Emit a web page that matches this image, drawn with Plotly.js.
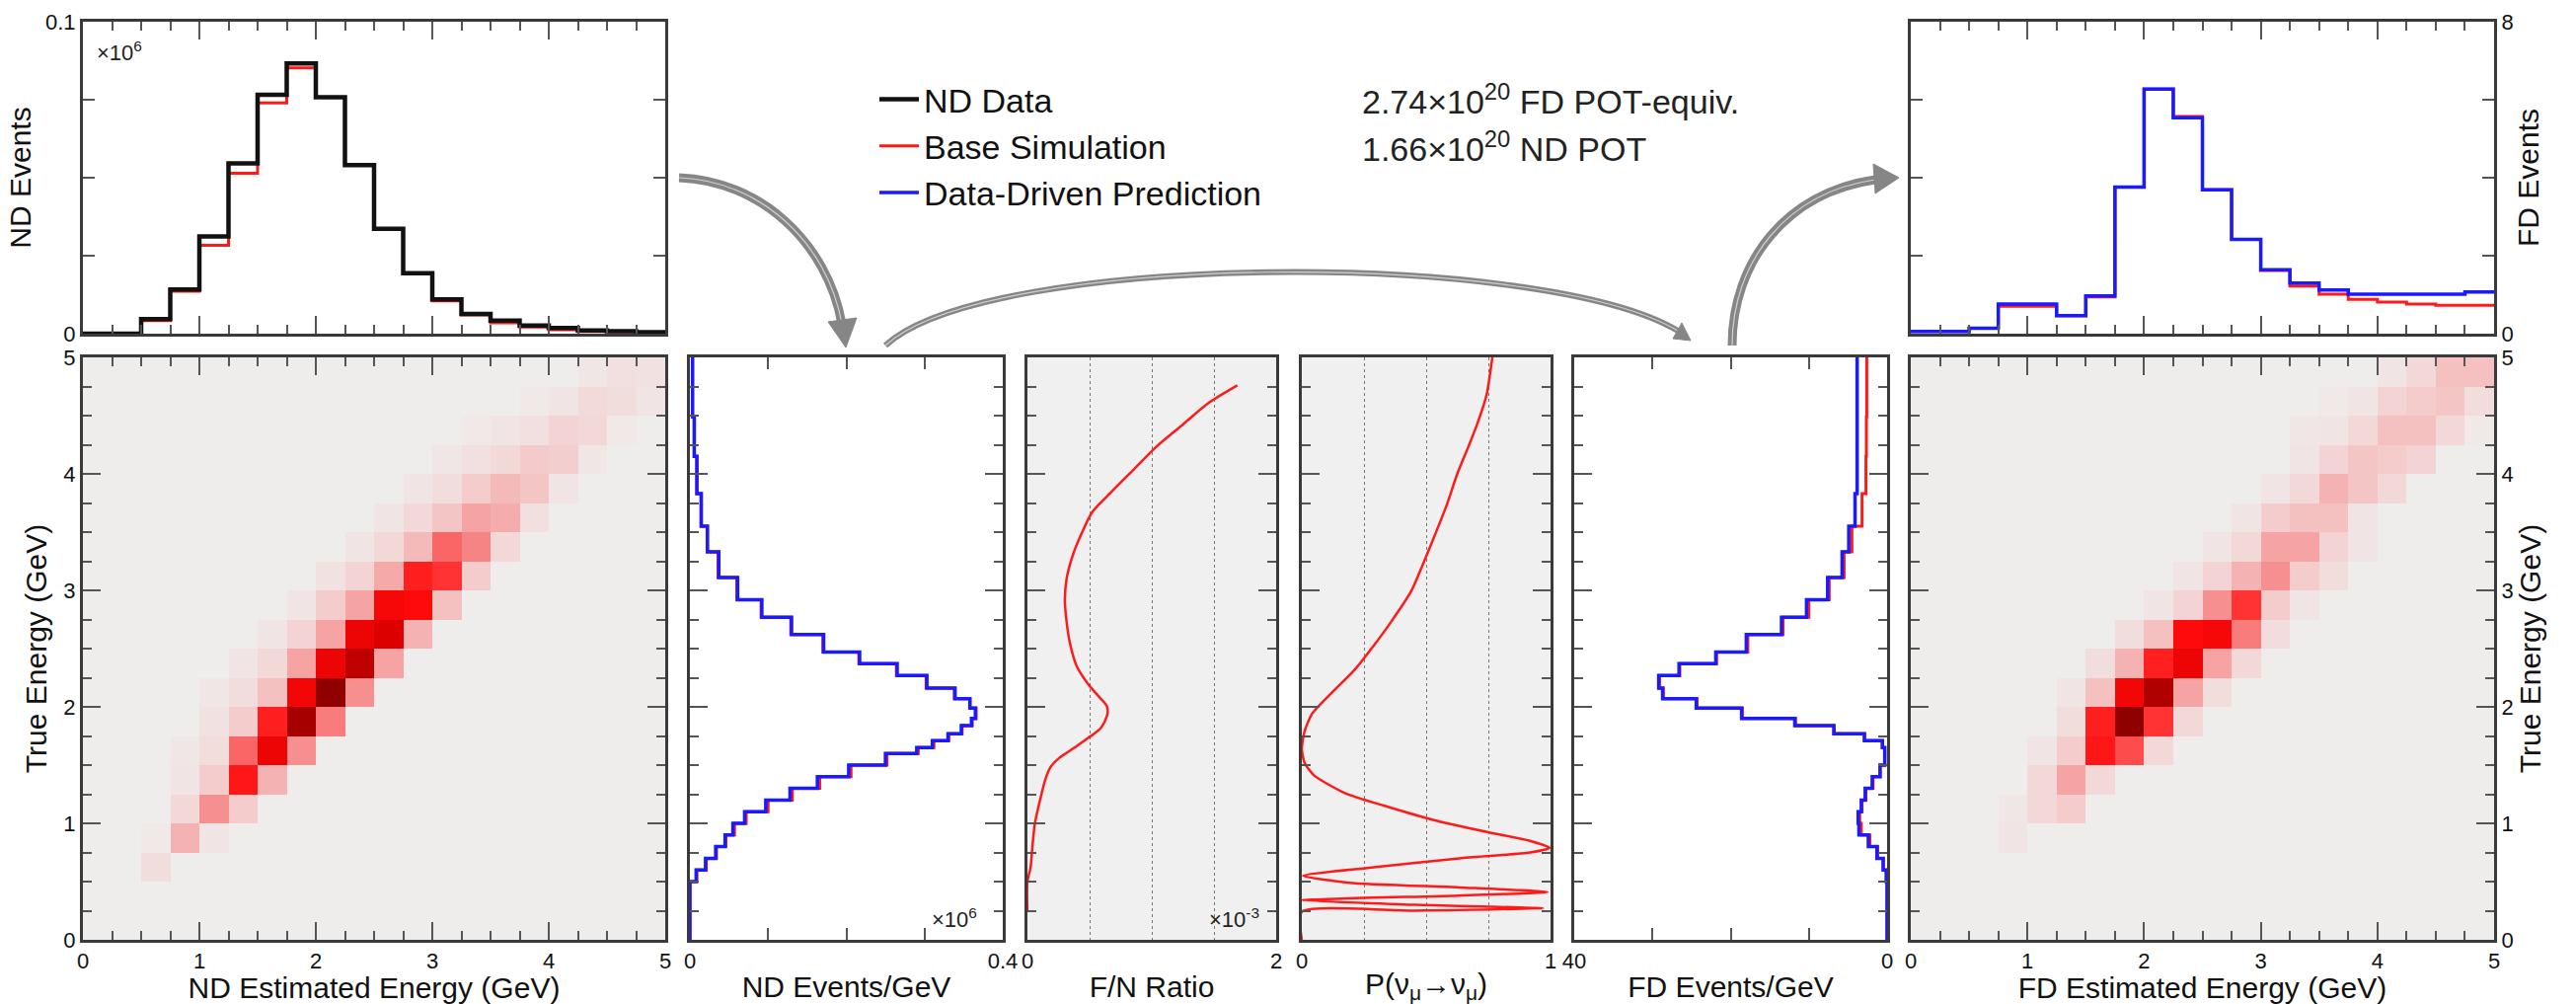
<!DOCTYPE html>
<html><head><meta charset="utf-8">
<script src="https://cdn.plot.ly/plotly-3.0.1.min.js"></script>
<style>html,body{margin:0;padding:0;background:#fff;}#chart{width:2610px;height:1017px;}</style>
</head><body><div id="chart"></div>
<script>
// ---------------- DATA ----------------
const recoEdges = [0,0.25,0.5,0.75,1,1.25,1.5,1.75,2,2.25,2.5,2.75,3,3.25,3.5,3.75,4,4.25,4.5,4.75,5];
// top-left: ND events per reco-energy bin (x10^6)
const ndData = [0,0,0.0047,0.0142,0.0312,0.0546,0.0766,0.0866,0.0758,0.054,0.0336,0.0194,0.011,0.0063,0.0042,0.0026,0.0018,0.001,0.0008,0.0005];
const ndSim  = [0,0,0.0042,0.0136,0.0283,0.0514,0.074,0.0852,0.0758,0.0543,0.0336,0.0194,0.0105,0.006,0.0035,0.0021,0.0013,0.0007,0.0006,0.0004];
// top-right: FD events per reco-energy bin
const fdPred = [0.06,0.06,0.14,0.76,0.76,0.46,0.97,3.76,6.27,5.54,3.69,2.42,1.64,1.30,1.12,1.01,1.01,1.01,1.01,1.07];
const fdSim  = [0.06,0.06,0.14,0.70,0.70,0.46,0.94,3.76,6.27,5.57,3.69,2.42,1.62,1.22,1.01,0.88,0.81,0.76,0.73,0.73];
// true-energy binning of the vertical panels (GeV)
const trueEdges = [0,0.5,0.6,0.7,0.8,0.9,1.0,1.1,1.2,1.3,1.4,1.5,1.6,1.65,1.71,1.77,1.84,1.9,1.99,2.07,2.16,2.27,2.37,2.47,2.62,2.77,2.92,3.11,3.33,3.55,3.83,4.15,4.49,5.0];
const ndTruePred = [0,0.008,0.02,0.033,0.045,0.055,0.07,0.097,0.128,0.163,0.203,0.25,0.29,0.31,0.33,0.347,0.36,0.365,0.358,0.339,0.303,0.265,0.217,0.171,0.13,0.092,0.061,0.037,0.0225,0.0146,0.009,0.0056,0.0034];
const ndTrueSim  = [0,0.009,0.021,0.034,0.046,0.057,0.072,0.1,0.131,0.166,0.206,0.252,0.292,0.312,0.331,0.348,0.361,0.366,0.358,0.338,0.302,0.264,0.216,0.17,0.129,0.091,0.06,0.036,0.022,0.0142,0.0088,0.0055,0.0033];
const fdTruePred = [0,0.1,0.5,1.3,2.4,3.6,3.7,3.3,2.8,1.9,0.9,0.3,0.3,0.6,2.9,6.8,11.8,18.6,24.4,28.7,29.2,26.6,21.9,18.0,13.5,10.3,7.6,5.75,4.9,4.1,3.83,3.83,3.83];
const fdTrueSim  = [0,0.1,0.5,1.2,2.2,3.3,3.5,3.2,2.7,1.8,0.9,0.3,0.3,0.6,2.9,6.8,11.7,18.5,24.3,28.6,29.1,26.5,21.8,17.8,13.3,10.0,7.4,5.5,4.5,3.2,2.7,2.65,2.6];
// F/N ratio (x10^-3) vs true energy
const fnEnergy = [0.24,0.5,0.62,0.8,1.0,1.22,1.37,1.48,1.56,1.65,1.73,1.82,1.94,2.01,2.09,2.2,2.35,2.54,2.73,2.91,3.10,3.29,3.48,3.67,3.85,4.04,4.23,4.42,4.61,4.76];
const fnRatio  = [0,0,0.025,0.04,0.06,0.106,0.142,0.184,0.255,0.379,0.485,0.591,0.644,0.637,0.573,0.485,0.396,0.343,0.315,0.301,0.315,0.361,0.432,0.52,0.68,0.857,1.034,1.246,1.458,1.688];
// survival probability vs true energy
const pEnergy = [0.0,0.24,0.25,0.27,0.30,0.34,0.38,0.41,0.45,0.49,0.55,0.62,0.70,0.75,0.79,0.85,0.92,1.03,1.15,1.26,1.41,1.52,1.64,1.79,1.94,2.12,2.31,2.50,2.73,2.99,3.25,3.48,3.74,4.0,4.23,4.42,4.68,5.0];
const pSurv   = [0,0,0.456,0.97,0.456,0,0.634,0.988,0.634,0.19,0.005,0.28,0.634,0.917,0.996,0.917,0.758,0.527,0.333,0.173,0.05,0.011,0,0.011,0.041,0.12,0.209,0.28,0.359,0.439,0.492,0.536,0.584,0.625,0.669,0.704,0.743,0.766];
// reco (columns) vs true (rows) matrices, relative intensity
const ndMatrix = [
 [0,0,0,0,0,0,0,0,0,0,0,0,0,0,0,0,0,0,0,0],
 [0,0,0,0,0,0,0,0,0,0,0,0,0,0,0,0,0,0,0,0],
 [0,0,0.08,0,0,0,0,0,0,0,0,0,0,0,0,0,0,0,0,0],
 [0,0,0.03,0.25,0.05,0,0,0,0,0,0,0,0,0,0,0,0,0,0,0],
 [0,0,0,0.1,0.35,0.15,0,0,0,0,0,0,0,0,0,0,0,0,0,0],
 [0,0,0,0.05,0.15,0.62,0.25,0,0,0,0,0,0,0,0,0,0,0,0,0],
 [0,0,0,0.04,0.08,0.45,0.72,0.35,0,0,0,0,0,0,0,0,0,0,0,0],
 [0,0,0,0,0.06,0.15,0.6,0.9,0.4,0,0,0,0,0,0,0,0,0,0,0],
 [0,0,0,0,0.04,0.08,0.2,0.7,0.95,0.35,0,0,0,0,0,0,0,0,0,0],
 [0,0,0,0,0,0.05,0.1,0.3,0.72,0.85,0.3,0,0,0,0,0,0,0,0,0],
 [0,0,0,0,0,0,0.05,0.12,0.3,0.72,0.78,0.25,0,0,0,0,0,0,0,0],
 [0,0,0,0,0,0,0,0.05,0.15,0.3,0.68,0.65,0.2,0,0,0,0,0,0,0],
 [0,0,0,0,0,0,0,0,0.06,0.12,0.28,0.6,0.55,0.15,0,0,0,0,0,0],
 [0,0,0,0,0,0,0,0,0,0.05,0.1,0.22,0.45,0.38,0.1,0,0,0,0,0],
 [0,0,0,0,0,0,0,0,0,0,0.05,0.1,0.18,0.3,0.27,0.07,0,0,0,0],
 [0,0,0,0,0,0,0,0,0,0,0,0.05,0.08,0.15,0.22,0.18,0.05,0,0,0],
 [0,0,0,0,0,0,0,0,0,0,0,0,0.04,0.07,0.1,0.16,0.14,0.04,0,0],
 [0,0,0,0,0,0,0,0,0,0,0,0,0,0.03,0.05,0.07,0.12,0.1,0.03,0],
 [0,0,0,0,0,0,0,0,0,0,0,0,0,0,0,0.03,0.05,0.09,0.08,0.05],
 [0,0,0,0,0,0,0,0,0,0,0,0,0,0,0,0,0,0.04,0.07,0.06]
];
const fdMatrix = [
 [0,0,0,0,0,0,0,0,0,0,0,0,0,0,0,0,0,0,0,0],
 [0,0,0,0,0,0,0,0,0,0,0,0,0,0,0,0,0,0,0,0],
 [0,0,0,0,0,0,0,0,0,0,0,0,0,0,0,0,0,0,0,0],
 [0,0,0,0.05,0,0,0,0,0,0,0,0,0,0,0,0,0,0,0,0],
 [0,0,0,0.04,0.1,0.15,0,0,0,0,0,0,0,0,0,0,0,0,0,0],
 [0,0,0,0,0.1,0.3,0.1,0,0,0,0,0,0,0,0,0,0,0,0,0],
 [0,0,0,0,0.05,0.15,0.62,0.5,0.1,0,0,0,0,0,0,0,0,0,0,0],
 [0,0,0,0,0,0.08,0.6,0.95,0.55,0.1,0,0,0,0,0,0,0,0,0,0],
 [0,0,0,0,0,0.05,0.2,0.7,0.88,0.3,0.08,0,0,0,0,0,0,0,0,0],
 [0,0,0,0,0,0,0.08,0.25,0.6,0.72,0.3,0.1,0,0,0,0,0,0,0,0],
 [0,0,0,0,0,0,0,0.08,0.2,0.65,0.68,0.4,0.08,0,0,0,0,0,0,0],
 [0,0,0,0,0,0,0,0,0.05,0.12,0.35,0.55,0.15,0.05,0,0,0,0,0,0],
 [0,0,0,0,0,0,0,0,0,0.05,0.12,0.25,0.35,0.15,0.08,0,0,0,0,0],
 [0,0,0,0,0,0,0,0,0,0,0.05,0.1,0.3,0.3,0.12,0.05,0,0,0,0],
 [0,0,0,0,0,0,0,0,0,0,0,0.05,0.15,0.2,0.2,0.05,0,0,0,0],
 [0,0,0,0,0,0,0,0,0,0,0,0,0.05,0.1,0.25,0.18,0.1,0,0,0],
 [0,0,0,0,0,0,0,0,0,0,0,0,0,0.05,0.12,0.18,0.15,0.12,0,0],
 [0,0,0,0,0,0,0,0,0,0,0,0,0,0.04,0.05,0.1,0.2,0.2,0.1,0.03],
 [0,0,0,0,0,0,0,0,0,0,0,0,0,0,0.03,0.05,0.12,0.15,0.18,0.08],
 [0,0,0,0,0,0,0,0,0,0,0,0,0,0,0,0,0.05,0.1,0.2,0.2]
];
const legendNames = ['ND Data','Base Simulation','Data-Driven Prediction'];
const potLines = ['2.74×10<sup>20</sup> FD POT-equiv.','1.66×10<sup>20</sup> ND POT'];

// ---------------- HELPERS ----------------
const W=2610, H=1017;
const FONT='"Liberation Sans", Arial, Helvetica, sans-serif';
const dx=(a,b)=>[a/W,b/W];
const dy=(top,bot)=>[1-bot/H,1-top/H];
const px=x=>x/W, py=y=>1-y/H;
const stepY=v=>v.concat([v[v.length-1]]);
const RED='#ff1a1a', BLUE='#1a1aff', BLACK='#111';

const heatScale=[[0,'#efedec'],[0.04,'#f1e6e6'],[0.1,'#f3d8d8'],[0.2,'#f4c0c0'],[0.3,'#f5a3a3'],[0.42,'#f87474'],[0.55,'#ff3333'],[0.65,'#ff0a0a'],[0.78,'#dd0000'],[0.88,'#b00000'],[1,'#7a0000']];

const traces=[
 {x:recoEdges,y:stepY(ndSim),mode:'lines',line:{shape:'hv',color:RED,width:3},name:legendNames[1],legendrank:2,showlegend:true,xaxis:'x',yaxis:'y',hoverinfo:'skip'},
 {x:recoEdges,y:stepY(ndData),mode:'lines',line:{shape:'hv',color:BLACK,width:4.5},name:legendNames[0],legendrank:1,showlegend:true,xaxis:'x',yaxis:'y',hoverinfo:'skip'},
 {type:'heatmap',x:recoEdges,y:recoEdges,z:ndMatrix,zmin:0,zmax:1,colorscale:heatScale,showscale:false,xaxis:'x2',yaxis:'y2',hoverinfo:'skip'},
 {x:stepY(ndTrueSim),y:trueEdges,mode:'lines',line:{shape:'vh',color:RED,width:3},showlegend:false,xaxis:'x3',yaxis:'y3',hoverinfo:'skip'},
 {x:stepY(ndTruePred),y:trueEdges,mode:'lines',line:{shape:'vh',color:BLUE,width:3.5},showlegend:false,xaxis:'x3',yaxis:'y3',hoverinfo:'skip'},
 {x:fnRatio,y:fnEnergy,mode:'lines',line:{shape:'spline',smoothing:0.8,color:RED,width:2.5},showlegend:false,xaxis:'x4',yaxis:'y4',hoverinfo:'skip'},
 {x:pSurv,y:pEnergy,mode:'lines',line:{shape:'spline',smoothing:0.6,color:RED,width:2.5},showlegend:false,xaxis:'x5',yaxis:'y5',hoverinfo:'skip'},
 {x:stepY(fdTrueSim),y:trueEdges,mode:'lines',line:{shape:'vh',color:RED,width:3},showlegend:false,xaxis:'x6',yaxis:'y6',hoverinfo:'skip'},
 {x:stepY(fdTruePred),y:trueEdges,mode:'lines',line:{shape:'vh',color:BLUE,width:3.5},showlegend:false,xaxis:'x6',yaxis:'y6',hoverinfo:'skip'},
 {type:'heatmap',x:recoEdges,y:recoEdges,z:fdMatrix,zmin:0,zmax:1,colorscale:heatScale,showscale:false,xaxis:'x7',yaxis:'y7',hoverinfo:'skip'},
 {x:recoEdges,y:stepY(fdSim),mode:'lines',line:{shape:'hv',color:RED,width:3},showlegend:false,xaxis:'x8',yaxis:'y8',hoverinfo:'skip'},
 {x:recoEdges,y:stepY(fdPred),mode:'lines',line:{shape:'hv',color:BLUE,width:3.5},name:legendNames[2],legendrank:3,showlegend:true,xaxis:'x8',yaxis:'y8',hoverinfo:'skip'}
];

const tickFont={family:FONT,size:22,color:'#111'};
const titleFont={family:FONT,size:30,color:'#111'};
const TC='#555';
function minor(d,len,extra){return Object.assign({ticks:'inside',ticklen:len,tickwidth:2,tickcolor:TC,tickmode:'linear',tick0:0,dtick:d,showgrid:false},extra||{});}
function ax(o){return Object.assign({showline:true,linecolor:'#3a3a3a',linewidth:3,mirror:'ticks',ticks:'inside',ticklen:18,tickwidth:2,tickcolor:TC,zeroline:false,showgrid:false,tickfont:tickFont,fixedrange:true},o);}
function eAxis(o){return ax(Object.assign({range:[0,5],tickmode:'linear',tick0:0,dtick:1,minor:minor(0.25,9)},o));}
function valAxis(range,vals,mn,o){return ax(Object.assign({range:range,tickmode:'array',tickvals:vals,ticktext:vals.map(String),minor:mn},o));}
const gridMinor=(d)=>minor(d,0,{ticks:'',showgrid:true,gridcolor:'#777',gridwidth:1,griddash:'dot'});

const BOT=[362,952], TOP=[22,338];
const layout={
 width:W,height:H,margin:{l:0,r:0,t:0,b:0},paper_bgcolor:'#fff',plot_bgcolor:'#fff',
 font:{family:FONT,color:'#111'},
 showlegend:true,
 legend:{x:px(886),y:py(72),xanchor:'left',yanchor:'top',bgcolor:'rgba(0,0,0,0)',font:{family:FONT,size:34,color:'#111'},tracegroupgap:0,itemwidth:40},
 xaxis:eAxis({domain:dx(84,674),anchor:'y',showticklabels:false}),
 yaxis:valAxis([0,0.1],[0,0.1],minor(0.025,12),{domain:dy(...TOP),anchor:'x',title:{text:'ND Events',font:titleFont,standoff:6}}),
 xaxis2:eAxis({domain:dx(84,674),anchor:'y2',title:{text:'ND Estimated Energy (GeV)',font:titleFont,standoff:4}}),
 yaxis2:eAxis({domain:dy(...BOT),anchor:'x2',title:{text:'True Energy (GeV)',font:titleFont,standoff:8}}),
 xaxis3:valAxis([0,0.4],[0,0.4],minor(0.1,12),{domain:dx(699,1016),anchor:'y3',title:{text:'ND Events/GeV',font:titleFont,standoff:4}}),
 yaxis3:eAxis({domain:dy(...BOT),anchor:'x3',showticklabels:false}),
 xaxis4:valAxis([0,2],[0,2],gridMinor(0.5),{domain:dx(1041,1293),anchor:'y4',ticks:'',title:{text:'F/N Ratio',font:titleFont,standoff:4}}),
 yaxis4:eAxis({domain:dy(...BOT),anchor:'x4',showticklabels:false}),
 xaxis5:valAxis([0,1],[0,1],gridMinor(0.25),{domain:dx(1319,1571),anchor:'y5',ticks:'',title:{text:'P(ν<sub>μ</sub>→ν<sub>μ</sub>)',font:titleFont,standoff:4}}),
 yaxis5:eAxis({domain:dy(...BOT),anchor:'x5',showticklabels:false}),
 xaxis6:valAxis([40,0],[0,40],minor(10,12),{domain:dx(1595,1912),anchor:'y6',title:{text:'FD Events/GeV',font:titleFont,standoff:4}}),
 yaxis6:eAxis({domain:dy(...BOT),anchor:'x6',showticklabels:false}),
 xaxis7:eAxis({domain:dx(1936,2527),anchor:'y7',title:{text:'FD Estimated Energy (GeV)',font:titleFont,standoff:4}}),
 yaxis7:eAxis({domain:dy(...BOT),anchor:'x7',side:'right',title:{text:'True Energy (GeV)',font:titleFont,standoff:8}}),
 xaxis8:eAxis({domain:dx(1936,2527),anchor:'y8',showticklabels:false}),
 yaxis8:valAxis([0,8],[0,8],minor(2,12),{domain:dy(...TOP),anchor:'x8',side:'right',title:{text:'FD Events',font:titleFont,standoff:6}}),
 shapes:[],
 annotations:[]
};

// grey panel backgrounds
['4','5'].forEach(k=>layout.shapes.push({type:'rect',xref:'x'+k+' domain',yref:'y'+k+' domain',x0:0,x1:1,y0:0,y1:1,fillcolor:'#f0f0f0',line:{width:0},layer:'below'}));

// curved arrows (page pixel positions)
const P=(x,y)=>px(x).toFixed(5)+','+py(y).toFixed(5);
function arrow(d,w,head){
 layout.shapes.push({type:'path',xref:'paper',yref:'paper',path:d,line:{color:'#868686',width:w}});
 layout.shapes.push({type:'path',xref:'paper',yref:'paper',path:d,line:{color:'#d0d0d0',width:1.2}});
 layout.shapes.push({type:'path',xref:'paper',yref:'paper',path:head,fillcolor:'#868686',line:{color:'#868686',width:1}});
}
arrow('M '+P(688,180)+' C '+P(770,183)+' '+P(838,245)+' '+P(853,328),9,
      'M '+P(857,352)+' L '+P(839,326)+' L '+P(868,322)+' Z');
arrow('M '+P(897,350)+' C '+P(1000,255)+' '+P(1560,252)+' '+P(1700,335),6,
      'M '+P(1713,345)+' L '+P(1695,343)+' L '+P(1704,327)+' Z');
arrow('M '+P(1755,350)+' C '+P(1755,265)+' '+P(1810,195)+' '+P(1900,182),9,
      'M '+P(1924,180)+' L '+P(1898,166)+' L '+P(1900,196)+' Z');

// text annotations
function ann(text,x,y,anchor,size){layout.annotations.push({text:text,xref:'paper',yref:'paper',x:px(x),y:py(y),xanchor:anchor,yanchor:'middle',showarrow:false,font:{family:FONT,size:size,color:'#222'}});}
ann('×10<sup>6</sup>',96,52,'left',22);
ann('×10<sup>6</sup>',992,930,'right',22);
ann('×10<sup>-3</sup>',1278,930,'right',22);
ann(potLines[0],1378,100,'left',34);
ann(potLines[1],1378,148,'left',34);

Plotly.newPlot('chart',traces,layout,{staticPlot:true});
</script></body></html>
